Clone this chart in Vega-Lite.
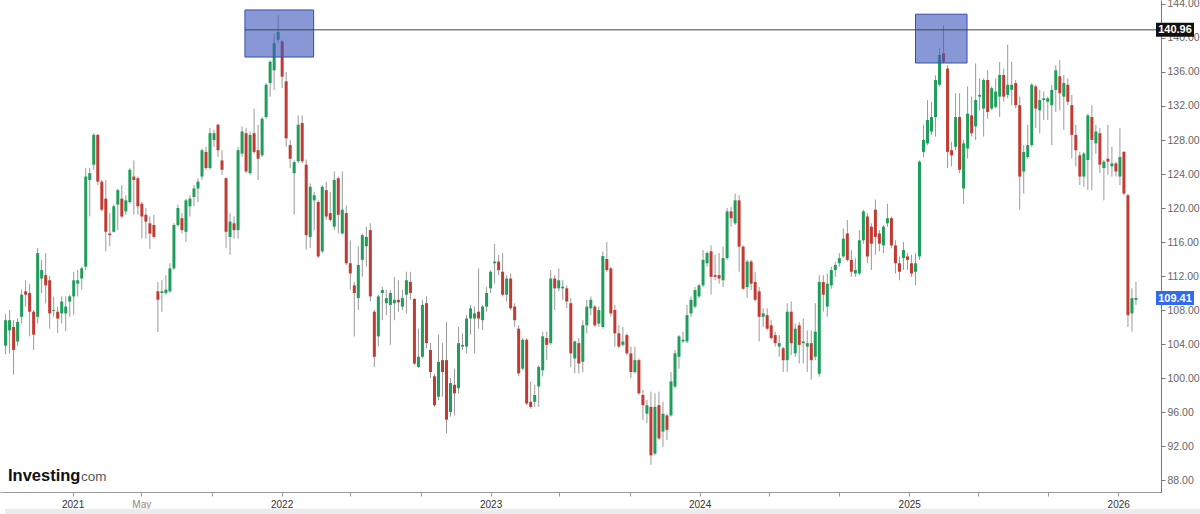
{
"$schema": "https://vega.github.io/schema/vega-lite/v6.json",
"width": 1161,
"height": 492,
"autosize": {"type": "none"},
"padding": {"left": 0, "top": 0, "right": 39, "bottom": 22},
"background": "white",
"config": {"view": {"stroke": null}, "font": "Liberation Sans"},
"datasets": {
"candles": [
{"d":"2020-09-06","o":103.8,"h":107.5,"l":102.8,"c":106.8},
{"d":"2020-09-13","o":105.6,"h":108.0,"l":102.9,"c":106.8},
{"d":"2020-09-20","o":106.0,"h":106.8,"l":100.4,"c":103.3},
{"d":"2020-09-27","o":104.3,"h":107.0,"l":103.8,"c":106.6},
{"d":"2020-10-04","o":107.2,"h":110.4,"l":106.4,"c":109.8},
{"d":"2020-10-11","o":110.2,"h":111.5,"l":108.4,"c":109.8},
{"d":"2020-10-18","o":110.0,"h":111.1,"l":104.9,"c":107.8},
{"d":"2020-10-25","o":107.8,"h":108.0,"l":103.3,"c":105.1},
{"d":"2020-11-01","o":107.2,"h":115.3,"l":106.4,"c":114.7},
{"d":"2020-11-08","o":111.7,"h":113.9,"l":110.0,"c":112.7},
{"d":"2020-11-15","o":112.1,"h":114.7,"l":108.8,"c":110.9},
{"d":"2020-11-22","o":111.5,"h":112.0,"l":105.8,"c":107.6},
{"d":"2020-11-29","o":107.9,"h":109.6,"l":107.2,"c":108.0},
{"d":"2020-12-06","o":107.8,"h":108.4,"l":105.3,"c":107.0},
{"d":"2020-12-13","o":107.6,"h":109.6,"l":106.4,"c":109.0},
{"d":"2020-12-20","o":107.6,"h":109.6,"l":105.5,"c":108.4},
{"d":"2020-12-27","o":109.0,"h":109.8,"l":107.2,"c":109.6},
{"d":"2021-01-03","o":109.6,"h":112.5,"l":107.4,"c":111.5},
{"d":"2021-01-10","o":111.1,"h":112.7,"l":109.6,"c":111.5},
{"d":"2021-01-17","o":111.7,"h":113.1,"l":110.4,"c":112.9},
{"d":"2021-01-24","o":113.1,"h":124.7,"l":112.7,"c":123.7},
{"d":"2021-01-31","o":123.3,"h":124.7,"l":119.0,"c":124.1},
{"d":"2021-02-07","o":125.1,"h":128.8,"l":124.5,"c":128.6},
{"d":"2021-02-14","o":128.6,"h":128.7,"l":122.7,"c":123.1},
{"d":"2021-02-21","o":123.1,"h":123.3,"l":119.6,"c":119.8},
{"d":"2021-02-28","o":121.1,"h":123.3,"l":114.9,"c":117.2},
{"d":"2021-03-07","o":117.0,"h":119.4,"l":115.5,"c":116.8},
{"d":"2021-03-14","o":117.2,"h":120.4,"l":117.1,"c":120.2},
{"d":"2021-03-21","o":120.4,"h":122.3,"l":117.4,"c":122.1},
{"d":"2021-03-28","o":121.1,"h":122.7,"l":118.8,"c":119.0},
{"d":"2021-04-04","o":119.6,"h":121.5,"l":119.2,"c":120.9},
{"d":"2021-04-11","o":120.7,"h":124.7,"l":120.5,"c":124.5},
{"d":"2021-04-18","o":123.7,"h":125.6,"l":119.2,"c":123.3},
{"d":"2021-04-25","o":123.5,"h":123.7,"l":119.2,"c":120.2},
{"d":"2021-05-02","o":120.5,"h":120.7,"l":116.4,"c":119.0},
{"d":"2021-05-09","o":119.2,"h":120.0,"l":116.4,"c":118.4},
{"d":"2021-05-16","o":118.2,"h":119.0,"l":115.2,"c":117.0},
{"d":"2021-05-23","o":118.0,"h":119.2,"l":116.4,"c":116.6},
{"d":"2021-05-30","o":110.2,"h":111.3,"l":105.4,"c":109.2},
{"d":"2021-06-06","o":110.0,"h":111.5,"l":107.8,"c":110.2},
{"d":"2021-06-13","o":110.0,"h":112.1,"l":109.8,"c":110.4},
{"d":"2021-06-20","o":110.2,"h":113.5,"l":110.0,"c":112.9},
{"d":"2021-06-27","o":112.9,"h":118.2,"l":112.7,"c":118.0},
{"d":"2021-07-04","o":118.0,"h":120.4,"l":117.8,"c":120.0},
{"d":"2021-07-11","o":118.8,"h":119.4,"l":117.0,"c":117.4},
{"d":"2021-07-18","o":117.2,"h":121.1,"l":116.0,"c":120.9},
{"d":"2021-07-25","o":120.2,"h":121.5,"l":119.0,"c":121.1},
{"d":"2021-08-01","o":121.3,"h":122.7,"l":120.2,"c":122.3},
{"d":"2021-08-08","o":122.3,"h":123.5,"l":120.7,"c":123.1},
{"d":"2021-08-15","o":123.7,"h":127.0,"l":123.3,"c":126.8},
{"d":"2021-08-22","o":126.6,"h":127.2,"l":124.5,"c":124.7},
{"d":"2021-08-29","o":124.7,"h":129.4,"l":124.5,"c":128.8},
{"d":"2021-09-05","o":128.0,"h":129.2,"l":127.2,"c":128.8},
{"d":"2021-09-12","o":129.8,"h":129.9,"l":126.0,"c":126.8},
{"d":"2021-09-19","o":125.6,"h":126.8,"l":123.9,"c":124.5},
{"d":"2021-09-26","o":123.5,"h":123.6,"l":115.3,"c":117.2},
{"d":"2021-10-03","o":116.6,"h":119.4,"l":114.5,"c":118.4},
{"d":"2021-10-10","o":118.2,"h":119.0,"l":116.4,"c":117.4},
{"d":"2021-10-17","o":117.4,"h":127.2,"l":116.4,"c":126.8},
{"d":"2021-10-24","o":126.4,"h":129.6,"l":126.0,"c":129.0},
{"d":"2021-10-31","o":128.8,"h":129.4,"l":124.1,"c":124.3},
{"d":"2021-11-07","o":124.1,"h":129.0,"l":123.9,"c":128.6},
{"d":"2021-11-14","o":128.8,"h":131.7,"l":126.4,"c":126.6},
{"d":"2021-11-21","o":126.8,"h":129.8,"l":123.3,"c":125.8},
{"d":"2021-11-28","o":126.2,"h":130.7,"l":126.0,"c":130.5},
{"d":"2021-12-05","o":130.7,"h":134.7,"l":130.5,"c":134.5},
{"d":"2021-12-12","o":134.7,"h":137.4,"l":133.1,"c":137.2},
{"d":"2021-12-19","o":136.2,"h":140.5,"l":133.9,"c":139.4},
{"d":"2021-12-26","o":139.8,"h":142.7,"l":139.4,"c":140.7},
{"d":"2022-01-02","o":139.6,"h":139.8,"l":134.1,"c":135.45},
{"d":"2022-01-09","o":134.9,"h":136.0,"l":127.2,"c":128.2},
{"d":"2022-01-16","o":127.4,"h":128.0,"l":124.7,"c":125.8},
{"d":"2022-01-23","o":124.1,"h":125.6,"l":119.2,"c":125.4},
{"d":"2022-01-30","o":125.5,"h":130.9,"l":125.3,"c":129.8},
{"d":"2022-02-06","o":130.0,"h":130.9,"l":125.3,"c":125.5},
{"d":"2022-02-13","o":125.1,"h":125.7,"l":115.1,"c":116.8},
{"d":"2022-02-20","o":116.6,"h":122.9,"l":115.3,"c":122.5},
{"d":"2022-02-27","o":120.9,"h":121.9,"l":117.4,"c":121.5},
{"d":"2022-03-06","o":120.7,"h":120.9,"l":114.1,"c":114.3},
{"d":"2022-03-13","o":114.9,"h":122.7,"l":114.7,"c":122.5},
{"d":"2022-03-20","o":122.1,"h":123.1,"l":118.6,"c":119.0},
{"d":"2022-03-27","o":119.4,"h":121.9,"l":118.4,"c":118.6},
{"d":"2022-04-03","o":117.8,"h":124.3,"l":117.4,"c":123.3},
{"d":"2022-04-10","o":123.5,"h":123.7,"l":117.0,"c":119.2},
{"d":"2022-04-17","o":117.0,"h":124.3,"l":116.9,"c":119.8},
{"d":"2022-04-24","o":119.4,"h":120.3,"l":113.3,"c":113.5},
{"d":"2022-05-01","o":113.5,"h":116.2,"l":110.4,"c":112.3},
{"d":"2022-05-08","o":110.9,"h":111.3,"l":104.9,"c":110.0},
{"d":"2022-05-15","o":109.4,"h":115.5,"l":108.0,"c":113.3},
{"d":"2022-05-22","o":113.9,"h":117.0,"l":111.9,"c":116.8},
{"d":"2022-05-29","o":115.5,"h":117.8,"l":113.1,"c":116.6},
{"d":"2022-06-05","o":117.4,"h":118.2,"l":109.0,"c":109.6},
{"d":"2022-06-12","o":107.8,"h":108.0,"l":101.3,"c":102.5},
{"d":"2022-06-19","o":104.9,"h":109.8,"l":103.7,"c":109.6},
{"d":"2022-06-26","o":110.0,"h":110.7,"l":106.8,"c":110.35},
{"d":"2022-07-03","o":108.8,"h":110.35,"l":107.4,"c":109.4},
{"d":"2022-07-10","o":108.6,"h":110.35,"l":103.9,"c":110.0},
{"d":"2022-07-17","o":108.8,"h":111.9,"l":106.8,"c":109.2},
{"d":"2022-07-24","o":109.2,"h":111.5,"l":107.8,"c":108.9},
{"d":"2022-07-31","o":108.4,"h":110.35,"l":108.0,"c":109.4},
{"d":"2022-08-07","o":109.8,"h":112.5,"l":107.6,"c":111.5},
{"d":"2022-08-14","o":111.3,"h":112.5,"l":109.2,"c":110.0},
{"d":"2022-08-21","o":109.3,"h":109.4,"l":101.5,"c":101.7},
{"d":"2022-08-28","o":101.3,"h":105.8,"l":101.2,"c":102.5},
{"d":"2022-09-04","o":102.5,"h":109.2,"l":102.3,"c":108.6},
{"d":"2022-09-11","o":108.8,"h":109.6,"l":103.5,"c":104.1},
{"d":"2022-09-18","o":103.3,"h":104.1,"l":100.0,"c":100.7},
{"d":"2022-09-25","o":100.2,"h":100.5,"l":96.6,"c":96.8},
{"d":"2022-10-02","o":97.8,"h":105.1,"l":97.4,"c":101.9},
{"d":"2022-10-09","o":102.1,"h":104.1,"l":97.8,"c":100.7},
{"d":"2022-10-16","o":102.1,"h":106.6,"l":93.5,"c":95.1},
{"d":"2022-10-23","o":96.0,"h":100.0,"l":95.45,"c":99.4},
{"d":"2022-10-30","o":99.2,"h":101.1,"l":95.6,"c":98.2},
{"d":"2022-11-06","o":98.8,"h":106.0,"l":98.2,"c":104.1},
{"d":"2022-11-13","o":103.7,"h":105.25,"l":103.3,"c":103.9},
{"d":"2022-11-20","o":103.7,"h":107.4,"l":102.9,"c":107.0},
{"d":"2022-11-27","o":107.0,"h":108.6,"l":105.1,"c":108.2},
{"d":"2022-12-04","o":107.0,"h":108.4,"l":102.9,"c":107.6},
{"d":"2022-12-11","o":107.8,"h":112.9,"l":105.8,"c":107.0},
{"d":"2022-12-18","o":106.8,"h":108.6,"l":105.65,"c":108.4},
{"d":"2022-12-25","o":108.4,"h":110.7,"l":107.8,"c":110.0},
{"d":"2023-01-01","o":110.55,"h":112.7,"l":110.0,"c":112.5},
{"d":"2023-01-08","o":113.5,"h":115.8,"l":111.1,"c":113.7},
{"d":"2023-01-15","o":113.7,"h":114.5,"l":112.1,"c":112.7},
{"d":"2023-01-22","o":112.5,"h":114.7,"l":109.6,"c":109.8},
{"d":"2023-01-29","o":109.8,"h":112.1,"l":109.0,"c":111.7},
{"d":"2023-02-05","o":111.7,"h":112.3,"l":108.0,"c":108.2},
{"d":"2023-02-12","o":108.4,"h":108.8,"l":106.0,"c":106.8},
{"d":"2023-02-19","o":105.8,"h":106.2,"l":100.2,"c":100.55},
{"d":"2023-02-26","o":101.1,"h":104.7,"l":100.9,"c":104.5},
{"d":"2023-03-05","o":104.5,"h":104.7,"l":96.8,"c":97.0},
{"d":"2023-03-12","o":97.2,"h":99.6,"l":96.4,"c":96.6},
{"d":"2023-03-19","o":97.2,"h":99.2,"l":96.6,"c":98.0},
{"d":"2023-03-26","o":99.0,"h":101.5,"l":96.6,"c":101.3},
{"d":"2023-04-02","o":100.9,"h":105.45,"l":100.2,"c":104.9},
{"d":"2023-04-09","o":104.7,"h":105.45,"l":102.1,"c":103.9},
{"d":"2023-04-16","o":104.1,"h":112.7,"l":103.9,"c":111.7},
{"d":"2023-04-23","o":111.7,"h":112.1,"l":108.0,"c":110.55},
{"d":"2023-04-30","o":110.55,"h":112.9,"l":110.2,"c":111.5},
{"d":"2023-05-07","o":110.55,"h":111.5,"l":109.2,"c":110.74},
{"d":"2023-05-14","o":110.55,"h":110.9,"l":108.2,"c":109.0},
{"d":"2023-05-21","o":108.8,"h":109.4,"l":101.3,"c":102.9},
{"d":"2023-05-28","o":102.3,"h":104.4,"l":100.55,"c":104.3},
{"d":"2023-06-04","o":104.1,"h":104.7,"l":100.55,"c":101.7},
{"d":"2023-06-11","o":101.9,"h":106.8,"l":100.7,"c":106.2},
{"d":"2023-06-18","o":106.2,"h":109.2,"l":105.25,"c":108.4},
{"d":"2023-06-25","o":108.2,"h":109.6,"l":107.4,"c":109.2},
{"d":"2023-07-02","o":108.4,"h":108.6,"l":106.0,"c":106.2},
{"d":"2023-07-09","o":106.4,"h":108.4,"l":106.0,"c":108.0},
{"d":"2023-07-16","o":106.0,"h":114.9,"l":105.8,"c":114.35},
{"d":"2023-07-23","o":114.0,"h":116.0,"l":112.5,"c":112.7},
{"d":"2023-07-30","o":112.9,"h":113.1,"l":107.2,"c":107.6},
{"d":"2023-08-06","o":108.0,"h":108.6,"l":103.7,"c":105.25},
{"d":"2023-08-13","o":105.25,"h":106.2,"l":103.5,"c":103.7},
{"d":"2023-08-20","o":103.9,"h":106.0,"l":103.7,"c":104.3},
{"d":"2023-08-27","o":105.05,"h":105.25,"l":102.7,"c":102.9},
{"d":"2023-09-03","o":102.9,"h":103.7,"l":100.0,"c":100.7},
{"d":"2023-09-10","o":100.7,"h":103.7,"l":100.5,"c":102.1},
{"d":"2023-09-17","o":102.1,"h":102.3,"l":98.0,"c":98.2},
{"d":"2023-09-24","o":98.0,"h":98.6,"l":95.05,"c":96.8},
{"d":"2023-10-01","o":95.8,"h":97.4,"l":94.7,"c":96.8},
{"d":"2023-10-08","o":96.6,"h":98.4,"l":89.8,"c":90.9},
{"d":"2023-10-15","o":91.1,"h":98.2,"l":90.9,"c":96.6},
{"d":"2023-10-22","o":96.8,"h":98.4,"l":92.7,"c":92.9},
{"d":"2023-10-29","o":93.7,"h":97.2,"l":91.9,"c":95.8},
{"d":"2023-11-05","o":95.6,"h":95.8,"l":92.7,"c":93.9},
{"d":"2023-11-12","o":95.6,"h":100.7,"l":95.45,"c":99.6},
{"d":"2023-11-19","o":99.0,"h":103.3,"l":98.8,"c":102.9},
{"d":"2023-11-26","o":102.5,"h":105.05,"l":101.1,"c":104.9},
{"d":"2023-12-03","o":104.3,"h":105.45,"l":104.1,"c":104.5},
{"d":"2023-12-10","o":104.3,"h":108.6,"l":104.1,"c":107.4},
{"d":"2023-12-17","o":107.6,"h":109.6,"l":107.2,"c":109.2},
{"d":"2023-12-24","o":108.4,"h":110.7,"l":108.2,"c":110.35},
{"d":"2023-12-31","o":109.6,"h":111.1,"l":109.4,"c":110.9},
{"d":"2024-01-07","o":110.9,"h":115.05,"l":110.7,"c":113.9},
{"d":"2024-01-14","o":113.5,"h":114.9,"l":113.1,"c":114.7},
{"d":"2024-01-21","o":114.9,"h":115.6,"l":109.8,"c":111.9},
{"d":"2024-01-28","o":112.1,"h":114.5,"l":111.5,"c":111.9},
{"d":"2024-02-04","o":112.1,"h":114.7,"l":111.1,"c":111.7},
{"d":"2024-02-11","o":111.5,"h":115.45,"l":110.7,"c":114.1},
{"d":"2024-02-18","o":114.1,"h":120.0,"l":113.9,"c":119.6},
{"d":"2024-02-25","o":119.6,"h":120.15,"l":117.8,"c":118.8},
{"d":"2024-03-03","o":118.2,"h":121.7,"l":118.0,"c":120.9},
{"d":"2024-03-10","o":120.9,"h":121.5,"l":112.5,"c":115.45},
{"d":"2024-03-17","o":115.45,"h":115.6,"l":110.35,"c":110.5},
{"d":"2024-03-24","o":110.7,"h":113.9,"l":109.4,"c":113.7},
{"d":"2024-03-31","o":113.7,"h":113.9,"l":110.35,"c":111.1},
{"d":"2024-04-07","o":111.3,"h":112.5,"l":109.0,"c":109.2},
{"d":"2024-04-14","o":110.2,"h":110.7,"l":104.3,"c":107.2},
{"d":"2024-04-21","o":107.2,"h":108.2,"l":106.0,"c":107.6},
{"d":"2024-04-28","o":107.4,"h":108.2,"l":105.6,"c":105.8},
{"d":"2024-05-05","o":106.2,"h":106.8,"l":104.5,"c":104.7},
{"d":"2024-05-12","o":105.05,"h":105.45,"l":103.7,"c":104.1},
{"d":"2024-05-19","o":103.7,"h":105.05,"l":102.5,"c":104.1},
{"d":"2024-05-26","o":103.5,"h":103.7,"l":100.7,"c":102.1},
{"d":"2024-06-02","o":102.1,"h":108.8,"l":100.7,"c":107.8},
{"d":"2024-06-09","o":107.8,"h":109.0,"l":102.7,"c":104.1},
{"d":"2024-06-16","o":102.9,"h":106.4,"l":102.5,"c":105.8},
{"d":"2024-06-23","o":106.2,"h":106.6,"l":101.7,"c":103.9},
{"d":"2024-06-30","o":104.1,"h":107.0,"l":101.7,"c":104.3},
{"d":"2024-07-07","o":103.7,"h":105.6,"l":100.7,"c":104.1},
{"d":"2024-07-14","o":104.1,"h":105.6,"l":99.8,"c":102.1},
{"d":"2024-07-21","o":102.5,"h":108.8,"l":102.1,"c":105.45},
{"d":"2024-07-28","o":100.5,"h":112.1,"l":100.15,"c":111.3},
{"d":"2024-08-04","o":111.3,"h":112.1,"l":107.8,"c":109.8},
{"d":"2024-08-11","o":108.4,"h":112.3,"l":107.2,"c":111.1},
{"d":"2024-08-18","o":110.9,"h":113.1,"l":110.5,"c":112.7},
{"d":"2024-08-25","o":112.7,"h":113.7,"l":111.9,"c":113.3},
{"d":"2024-09-01","o":113.5,"h":114.7,"l":113.1,"c":114.1},
{"d":"2024-09-08","o":114.3,"h":117.6,"l":114.1,"c":116.4},
{"d":"2024-09-15","o":117.0,"h":118.6,"l":113.7,"c":113.9},
{"d":"2024-09-22","o":113.9,"h":115.05,"l":111.9,"c":112.5},
{"d":"2024-09-29","o":112.3,"h":114.1,"l":111.9,"c":112.7},
{"d":"2024-10-06","o":112.3,"h":117.4,"l":112.1,"c":116.2},
{"d":"2024-10-13","o":116.2,"h":119.8,"l":115.8,"c":119.6},
{"d":"2024-10-20","o":119.0,"h":119.4,"l":113.5,"c":114.3},
{"d":"2024-10-27","o":117.8,"h":118.2,"l":112.7,"c":115.8},
{"d":"2024-11-03","o":119.8,"h":121.0,"l":114.5,"c":116.6},
{"d":"2024-11-10","o":117.0,"h":117.4,"l":114.9,"c":115.8},
{"d":"2024-11-17","o":115.6,"h":118.0,"l":114.7,"c":117.8},
{"d":"2024-11-24","o":118.2,"h":120.5,"l":117.8,"c":118.8},
{"d":"2024-12-01","o":118.8,"h":119.0,"l":115.25,"c":115.6},
{"d":"2024-12-08","o":115.6,"h":116.2,"l":112.3,"c":113.5},
{"d":"2024-12-15","o":113.5,"h":114.3,"l":111.5,"c":112.5},
{"d":"2024-12-22","o":114.1,"h":116.0,"l":112.7,"c":115.05},
{"d":"2024-12-29","o":114.3,"h":114.7,"l":112.7,"c":113.9},
{"d":"2025-01-05","o":113.5,"h":114.5,"l":111.9,"c":112.3},
{"d":"2025-01-12","o":112.5,"h":114.7,"l":110.9,"c":113.5},
{"d":"2025-01-19","o":114.3,"h":125.6,"l":113.9,"c":125.45},
{"d":"2025-01-26","o":126.6,"h":129.8,"l":126.0,"c":128.0},
{"d":"2025-02-02","o":127.6,"h":132.7,"l":127.4,"c":130.35},
{"d":"2025-02-09","o":129.0,"h":132.5,"l":128.6,"c":130.7},
{"d":"2025-02-16","o":130.7,"h":135.6,"l":128.4,"c":135.05},
{"d":"2025-02-23","o":134.5,"h":138.8,"l":134.3,"c":138.0},
{"d":"2025-03-02","o":138.2,"h":141.5,"l":137.0,"c":137.2},
{"d":"2025-03-09","o":136.4,"h":136.8,"l":124.7,"c":126.6},
{"d":"2025-03-16","o":126.8,"h":127.8,"l":124.9,"c":126.2},
{"d":"2025-03-23","o":127.2,"h":133.5,"l":126.8,"c":130.7},
{"d":"2025-03-30","o":130.7,"h":133.5,"l":124.1,"c":124.5},
{"d":"2025-04-06","o":122.3,"h":128.0,"l":120.5,"c":127.6},
{"d":"2025-04-13","o":127.0,"h":134.3,"l":125.8,"c":131.1},
{"d":"2025-04-20","o":130.9,"h":133.1,"l":128.4,"c":128.8},
{"d":"2025-04-27","o":129.6,"h":137.0,"l":128.0,"c":132.7},
{"d":"2025-05-04","o":133.1,"h":135.25,"l":131.5,"c":133.3},
{"d":"2025-05-11","o":131.7,"h":135.25,"l":128.4,"c":135.06},
{"d":"2025-05-18","o":135.06,"h":136.2,"l":130.5,"c":131.3},
{"d":"2025-05-25","o":131.7,"h":134.3,"l":131.5,"c":134.1},
{"d":"2025-06-01","o":131.9,"h":135.25,"l":131.7,"c":133.7},
{"d":"2025-06-08","o":133.1,"h":137.2,"l":130.7,"c":135.65},
{"d":"2025-06-15","o":135.65,"h":136.4,"l":132.5,"c":133.1},
{"d":"2025-06-22","o":133.3,"h":139.2,"l":132.9,"c":134.5},
{"d":"2025-06-29","o":133.9,"h":137.2,"l":132.1,"c":134.5},
{"d":"2025-07-06","o":134.7,"h":135.06,"l":131.7,"c":132.1},
{"d":"2025-07-13","o":132.1,"h":133.1,"l":119.8,"c":123.7},
{"d":"2025-07-20","o":124.3,"h":127.4,"l":121.7,"c":126.6},
{"d":"2025-07-27","o":126.0,"h":129.8,"l":125.8,"c":127.4},
{"d":"2025-08-03","o":127.4,"h":134.7,"l":127.2,"c":134.5},
{"d":"2025-08-10","o":134.3,"h":134.5,"l":129.4,"c":131.7},
{"d":"2025-08-17","o":131.5,"h":133.9,"l":128.8,"c":132.7},
{"d":"2025-08-24","o":132.7,"h":133.7,"l":130.35,"c":132.9},
{"d":"2025-08-31","o":132.5,"h":133.1,"l":130.35,"c":132.9},
{"d":"2025-09-07","o":132.1,"h":134.5,"l":127.4,"c":133.9},
{"d":"2025-09-14","o":133.9,"h":136.8,"l":131.3,"c":136.2},
{"d":"2025-09-21","o":135.5,"h":137.4,"l":131.5,"c":133.5},
{"d":"2025-09-28","o":133.1,"h":135.65,"l":129.2,"c":134.7},
{"d":"2025-10-05","o":134.5,"h":135.25,"l":132.1,"c":132.5},
{"d":"2025-10-12","o":132.1,"h":133.3,"l":125.8,"c":128.6},
{"d":"2025-10-19","o":128.6,"h":129.8,"l":124.9,"c":126.8},
{"d":"2025-10-26","o":126.2,"h":126.6,"l":122.7,"c":123.7},
{"d":"2025-11-02","o":123.7,"h":126.6,"l":122.5,"c":126.4},
{"d":"2025-11-09","o":125.65,"h":131.1,"l":122.1,"c":130.9},
{"d":"2025-11-16","o":130.7,"h":132.1,"l":122.1,"c":128.0},
{"d":"2025-11-23","o":127.6,"h":129.8,"l":126.4,"c":129.0},
{"d":"2025-11-30","o":128.8,"h":129.4,"l":124.1,"c":125.1},
{"d":"2025-12-07","o":124.7,"h":125.65,"l":120.9,"c":125.45},
{"d":"2025-12-14","o":125.8,"h":129.8,"l":123.9,"c":125.45},
{"d":"2025-12-21","o":124.9,"h":127.2,"l":123.7,"c":125.25},
{"d":"2025-12-28","o":125.25,"h":125.45,"l":123.7,"c":124.3},
{"d":"2026-01-04","o":123.7,"h":129.4,"l":122.7,"c":126.0},
{"d":"2026-01-11","o":126.6,"h":126.7,"l":121.5,"c":121.7},
{"d":"2026-01-18","o":121.5,"h":121.7,"l":106.0,"c":107.4},
{"d":"2026-01-25","o":107.6,"h":110.55,"l":105.45,"c":109.4},
{"d":"2026-02-01","o":109.2,"h":111.3,"l":108.6,"c":109.41}
],
"boxes": [
{"start":"2021-10-29","end":"2022-02-26","top":143.3,"bottom":137.76},
{"start":"2025-01-12","end":"2025-04-12","top":142.8,"bottom":137.06}
],
"tags": [
{"price":140.96,"label":"140.96","bg":"black"},
{"price":109.41,"label":"109.41","bg":"blue"}
]
},
"layer": [
{
"data": {"values": [{"from": "2020-09-05", "to": "2026-07-01", "top": 84.62, "bottom": 82.0}]},
"mark": {"type": "rect", "fill": "#ececec"},
"encoding": {
"x": {"field": "from", "type": "temporal",
"scale": {"type": "utc", "domain": [{"year":2020,"month":9,"date":5,"utc":true},{"year":2026,"month":3,"date":8,"utc":true}]},
"axis": {"title": null, "grid": false, "tickCount": 40,
"values": [
{"year":2021,"month":1,"date":1,"utc":true},{"year":2021,"month":5,"date":1,"utc":true},{"year":2021,"month":9,"date":1,"utc":true},
{"year":2022,"month":1,"date":1,"utc":true},{"year":2022,"month":5,"date":1,"utc":true},{"year":2022,"month":9,"date":1,"utc":true},
{"year":2023,"month":1,"date":1,"utc":true},{"year":2023,"month":5,"date":1,"utc":true},{"year":2023,"month":9,"date":1,"utc":true},
{"year":2024,"month":1,"date":1,"utc":true},{"year":2024,"month":5,"date":1,"utc":true},{"year":2024,"month":9,"date":1,"utc":true},
{"year":2025,"month":1,"date":1,"utc":true},{"year":2025,"month":5,"date":1,"utc":true},{"year":2025,"month":9,"date":1,"utc":true},
{"year":2026,"month":1,"date":1,"utc":true}],
"labelExpr": "utcmonth(datum.value) == 0 ? utcFormat(datum.value, '%Y') : ((utcyear(datum.value) == 2021 && utcmonth(datum.value) == 4) ? 'May' : '')",
"labelColor": {"condition": {"test": "utcmonth(datum.value) == 4", "value": "#888888"}, "value": "#333333"},
"labelFontSize": 10, "labelPadding": 3, "labelOverlap": false, "labelFlush": false,
"domainColor": "#9a9a9a", "tickColor": "#9a9a9a", "tickSize": 4}},
"x2": {"field": "to"},
"y": {"field": "top", "type": "quantitative",
"scale": {"domain": [86.59, 144.47], "nice": false, "zero": false},
"axis": {"orient": "right", "title": null, "grid": false, "format": ".2f", "tickCount": 40,
"values": [88,92,96,100,104,108,112,116,120,124,128,132,136,140,144],
"labelOverlap": false, "labelFontSize": 10.5, "labelColor": "#666666", "labelPadding": 2,
"domainColor": "#777777", "tickColor": "#777777", "tickSize": 4}},
"y2": {"field": "bottom"}
}
},
{
"data": {"name": "candles"},
"mark": {"type": "rule", "stroke": "#9a9a9a", "strokeWidth": 1, "clip": true},
"encoding": {
"x": {"field": "d", "type": "temporal"},
"y": {"field": "l", "type": "quantitative"},
"y2": {"field": "h"}
}
},
{
"data": {"name": "candles"},
"mark": {"type": "bar", "size": 3, "clip": true},
"encoding": {
"x": {"field": "d", "type": "temporal"},
"y": {"field": "o", "type": "quantitative"},
"y2": {"field": "c"},
"color": {"condition": {"test": "datum.c >= datum.o", "value": "#1f9d5a"}, "value": "#c23b32"}
}
},
{
"data": {"name": "boxes"},
"mark": {"type": "rect", "fill": "#3f58bd", "fillOpacity": 0.62, "stroke": "#3a4ea8", "strokeWidth": 1},
"encoding": {
"x": {"field": "start", "type": "temporal"},
"x2": {"field": "end"},
"y": {"field": "top", "type": "quantitative"},
"y2": {"field": "bottom"}
}
},
{
"data": {"values": [{"from": "2021-10-29", "to": "2026-03-08", "price": 140.96}]},
"mark": {"type": "rule", "stroke": "#444444", "strokeWidth": 1},
"encoding": {
"x": {"field": "from", "type": "temporal"},
"x2": {"field": "to"},
"y": {"field": "price", "type": "quantitative"}
}
},
{
"data": {"name": "tags"},
"mark": {"type": "point", "shape": "M0,-0.37H2V0.37H0Z", "size": 1444, "filled": true, "opacity": 1, "strokeWidth": 0},
"encoding": {
"x": {"datum": {"year":2026,"month":3,"date":8,"utc":true}, "type": "temporal"},
"y": {"field": "price", "type": "quantitative"},
"color": {"field": "bg", "type": "nominal", "scale": {"domain": ["black","blue"], "range": ["#111111","#2f6bf0"]}, "legend": null}
}
},
{
"data": {"name": "tags"},
"mark": {"type": "text", "align": "center", "baseline": "middle", "dx": 19, "dy": 0.5, "fontSize": 11, "fontWeight": "bold", "color": "white"},
"encoding": {
"x": {"datum": {"year":2026,"month":3,"date":8,"utc":true}, "type": "temporal"},
"y": {"field": "price", "type": "quantitative"},
"text": {"field": "label"}
}
},
{
"data": {"values": [{"t": "Investing"}]},
"mark": {"type": "text", "align": "left", "baseline": "alphabetic", "dx": 3, "fontSize": 16.5, "fontWeight": "bold", "color": "#111111", "font": "Liberation Sans"},
"encoding": {
"x": {"datum": {"year":2020,"month":9,"date":5,"utc":true}, "type": "temporal"},
"y": {"datum": 87.9, "type": "quantitative"},
"text": {"field": "t"}
}
},
{
"data": {"values": [{"t": "com"}]},
"mark": {"type": "text", "align": "left", "baseline": "alphabetic", "dx": 76, "fontSize": 13.5, "color": "#555555", "font": "Liberation Sans"},
"encoding": {
"x": {"datum": {"year":2020,"month":9,"date":5,"utc":true}, "type": "temporal"},
"y": {"datum": 87.9, "type": "quantitative"},
"text": {"field": "t"}
}
}
]
}
